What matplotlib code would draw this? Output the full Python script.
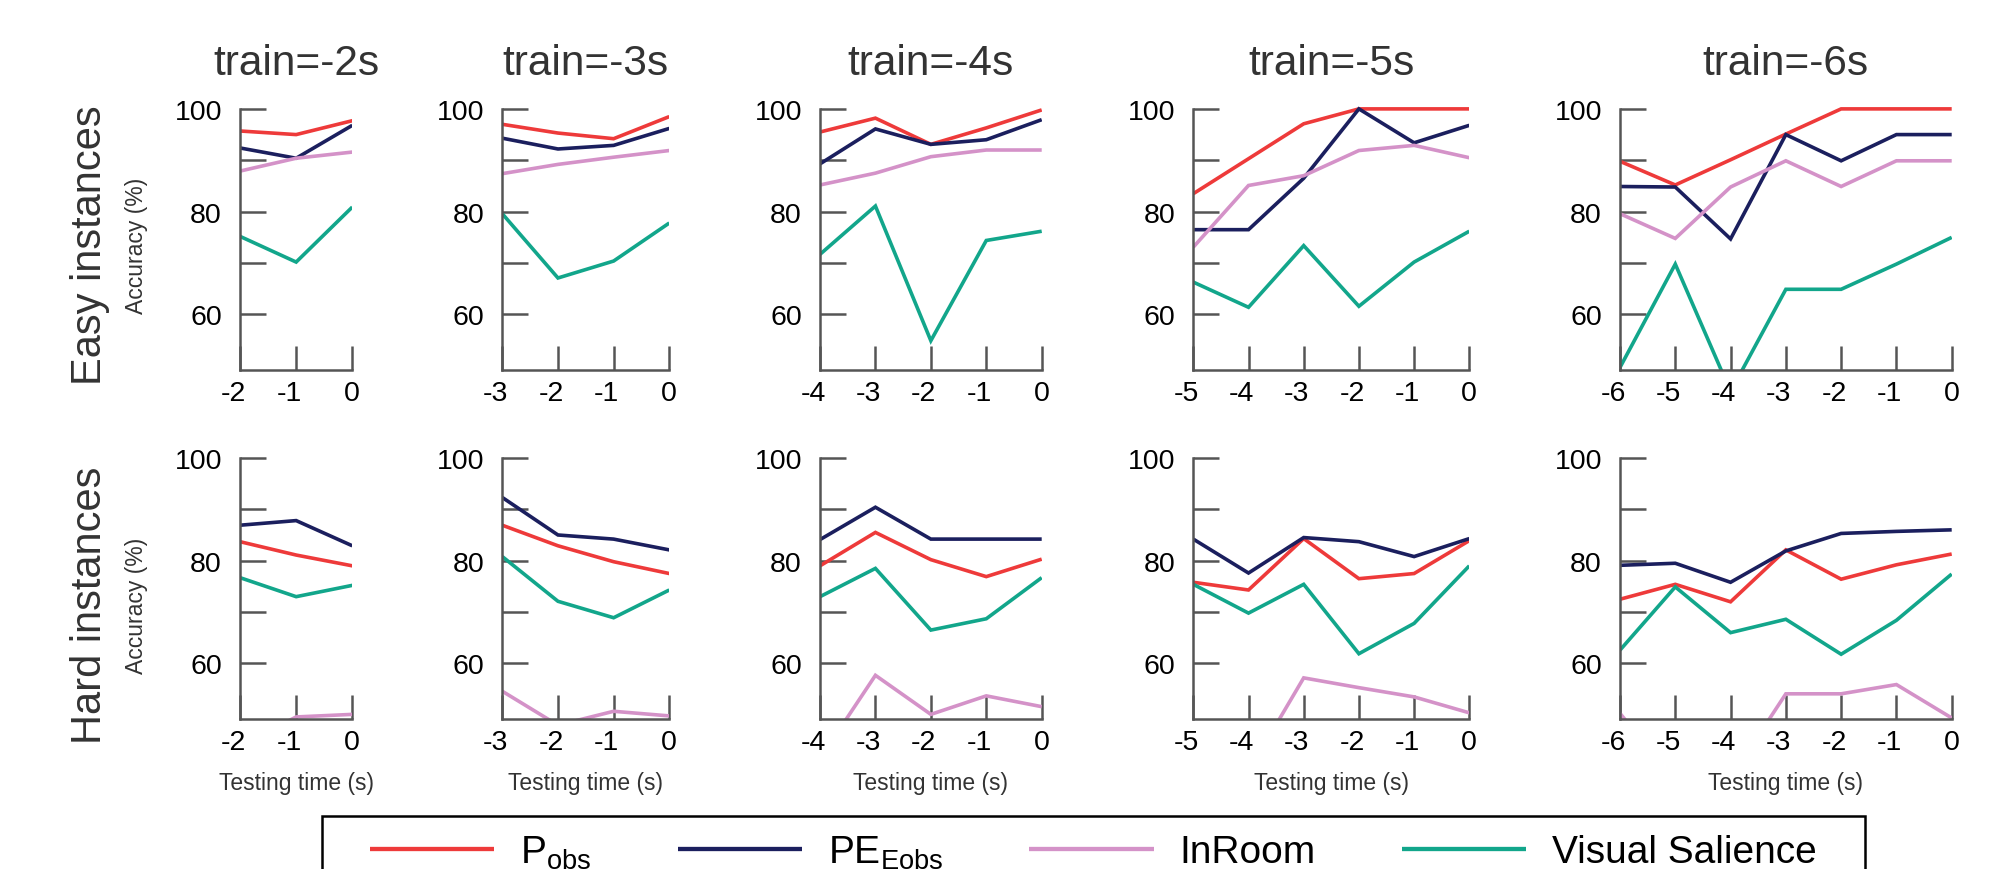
import matplotlib
matplotlib.use("Agg")
import matplotlib.pyplot as plt
from matplotlib.patches import Rectangle
from matplotlib.transforms import ScaledTranslation

plt.rcParams['font.family'] = ['Liberation Sans', 'DejaVu Sans']
plt.rcParams['mathtext.fontset'] = 'custom'
plt.rcParams['mathtext.rm'] = 'Liberation Sans'
plt.rcParams['mathtext.it'] = 'Liberation Sans:italic'
plt.rcParams['axes.unicode_minus'] = False

# ---------------- data ----------------
train_labels = ['train=-2s', 'train=-3s', 'train=-4s', 'train=-5s', 'train=-6s']
test_times = [[-2, -1, 0],
              [-3, -2, -1, 0],
              [-4, -3, -2, -1, 0],
              [-5, -4, -3, -2, -1, 0],
              [-6, -5, -4, -3, -2, -1, 0]]
row_labels = ['Easy instances', 'Hard instances']
series_names = ['P$_{\\mathrm{obs}}$', 'PE$_{\\mathrm{Eobs}}$', 'InRoom', 'Visual Salience']

easy_pobs = [[95.7, 95.0, 97.7],
             [97.0, 95.3, 94.2, 98.5],
             [95.5, 98.2, 93.1, 96.3, 99.8],
             [83.5, 90.3, 97.1, 100, 100, 100],
             [89.8, 85.2, 90.1, 95.1, 100, 100, 100]]
easy_peeobs = [[92.4, 90.4, 96.8],
               [94.3, 92.2, 92.9, 96.2],
               [89.3, 96.1, 93.1, 94.0, 97.9],
               [76.5, 76.5, 86.5, 100, 93.4, 96.8],
               [84.9, 84.8, 74.7, 95.0, 89.9, 95.0, 95.0]]
easy_inroom = [[87.9, 90.4, 91.6],
               [87.4, 89.2, 90.6, 91.9],
               [85.2, 87.5, 90.7, 92.0, 92.0],
               [73.1, 85.1, 87.0, 91.9, 92.9, 90.5],
               [79.6, 74.8, 84.8, 89.9, 84.9, 89.9, 89.9]]
easy_vs = [[75.2, 70.2, 80.9],
           [79.6, 67.1, 70.4, 77.8],
           [71.7, 81.1, 54.9, 74.4, 76.2],
           [66.3, 61.4, 73.4, 61.6, 70.2, 76.2],
           [49.7, 69.8, 45.0, 64.9, 64.9, 69.8, 75.0]]

hard_pobs = [[83.7, 81.1, 79.0],
             [86.9, 82.9, 79.8, 77.5],
             [79.0, 85.5, 80.2, 76.9, 80.3],
             [75.8, 74.3, 84.3, 76.5, 77.5, 83.9],
             [72.5, 75.4, 72.0, 82.1, 76.4, 79.2, 81.3]]
hard_peeobs = [[86.9, 87.8, 82.9],
               [92.3, 85.0, 84.2, 82.1],
               [84.1, 90.4, 84.2, 84.2, 84.2],
               [84.2, 77.6, 84.5, 83.7, 80.8, 84.3],
               [79.1, 79.5, 75.8, 81.9, 85.3, 85.7, 86.0]]
hard_inroom = [[44.0, 49.6, 50.1],
               [54.6, 48.0, 50.7, 49.8],
               [41.5, 57.7, 50.1, 53.7, 51.6],
               [40.0, 39.0, 57.2, 55.3, 53.5, 50.4],
               [50.3, 37.0, 37.7, 54.1, 54.1, 55.9, 49.4]]
hard_vs = [[76.7, 73.0, 75.2],
           [80.8, 72.1, 68.9, 74.3],
           [73.0, 78.5, 66.5, 68.7, 76.7],
           [75.4, 69.8, 75.4, 61.9, 67.8, 79.0],
           [62.6, 74.9, 66.0, 68.6, 61.8, 68.4, 77.4]]

rows = [[easy_pobs, easy_peeobs, easy_inroom, easy_vs],
        [hard_pobs, hard_peeobs, hard_inroom, hard_vs]]

colors = ['#EE3A3A', '#1B1F5E', '#D492C8', '#12A68B']
y_ticks = [60, 70, 80, 90, 100]
y_ticklabels = ['60', '', '80', '', '100']

# ---------------- layout ----------------
W, H = 2009, 870
fig = plt.figure(figsize=(W / 100, H / 100), dpi=100)

lefts = [240, 502.3, 820, 1193.3, 1620]
rights = [352.3, 669.3, 1041.7, 1469.3, 1951.7]
row_bottoms = [371, 720]
ylo, yhi = 49.2, 100.8
ppu = 5.14
hpx = (yhi - ylo) * ppu
spine_c = '#555555'
text_c = '#333333'
minus_shift = ScaledTranslation(-7 / 100, 0, fig.dpi_scale_trans)

first_lines = None
for r, series in enumerate(rows):
    for c in range(5):
        l, rr = lefts[c], rights[c]
        b = row_bottoms[r]
        ax = fig.add_axes([l / W, 1 - b / H, (rr - l) / W, hpx / H])
        lines = []
        for s, data in enumerate(series):
            ln, = ax.plot(test_times[c], data[c], color=colors[s], lw=2.6,
                          solid_capstyle='butt', solid_joinstyle='miter')
            lines.append(ln)
        if first_lines is None:
            first_lines = lines
        x0 = test_times[c][0]
        ax.set_xlim(x0, 0)
        ax.set_ylim(ylo, yhi)
        ax.spines['top'].set_visible(False)
        ax.spines['right'].set_visible(False)
        for sp in ('left', 'bottom'):
            ax.spines[sp].set_color(spine_c)
            ax.spines[sp].set_linewidth(1.8)
        ax.spines['left'].set_bounds(ylo, 100)
        ax.set_yticks(y_ticks)
        ax.set_yticklabels(y_ticklabels)
        ax.set_xticks(test_times[c])
        ax.set_xticklabels([str(t) for t in test_times[c]])
        ax.tick_params(axis='y', direction='in', length=18.7, width=1.8,
                       color=spine_c, labelsize=20.5, pad=13, labelcolor='black')
        ax.tick_params(axis='x', direction='in', length=17.5, width=1.8,
                       color=spine_c, labelsize=20.5, pad=7, labelcolor='black')
        for lab in ax.get_xticklabels():
            if lab.get_text().startswith('-'):
                lab.set_transform(lab.get_transform() + minus_shift)
        ax.patch.set_visible(False)
        if r == 0:
            ax.set_title(train_labels[c], fontsize=30.5, color=text_c, pad=22.5)
        else:
            ax.set_xlabel('Testing time (s)', fontsize=16.5, color=text_c)
            ax.xaxis.label.set_va('center')
            ax.xaxis.set_label_coords(0.5, (b - 784) / hpx)

# row labels
for r, yc in enumerate([245, 605]):
    fig.text(90 / W, 1 - yc / H, row_labels[r], rotation=90, ha='center',
             va='center', fontsize=30, color=text_c)
    fig.text(137 / W, 1 - (yc + 1) / H, 'Accuracy (%)', rotation=90, ha='center',
             va='center', fontsize=16.5, color=text_c)

# legend
leg = fig.legend(first_lines, series_names, loc='center left',
                 bbox_to_anchor=(370 / W, 1 - 853 / H - 0.01, (1817 - 370) / W, 0.02),
                 mode='expand', ncol=4, frameon=False, borderaxespad=0, borderpad=0,
                 handlelength=3.2, handletextpad=0.67, fontsize=28)
for hl in leg.get_lines():
    hl.set_linewidth(3.1)
fig.add_artist(Rectangle((322 / W, -0.5), (1865 - 322) / W, 0.5 + (1 - 816.7 / H),
                         transform=fig.transFigure, fill=False, edgecolor='black',
                         linewidth=1.8, clip_on=False))

fig.savefig('out.png', dpi=100)
